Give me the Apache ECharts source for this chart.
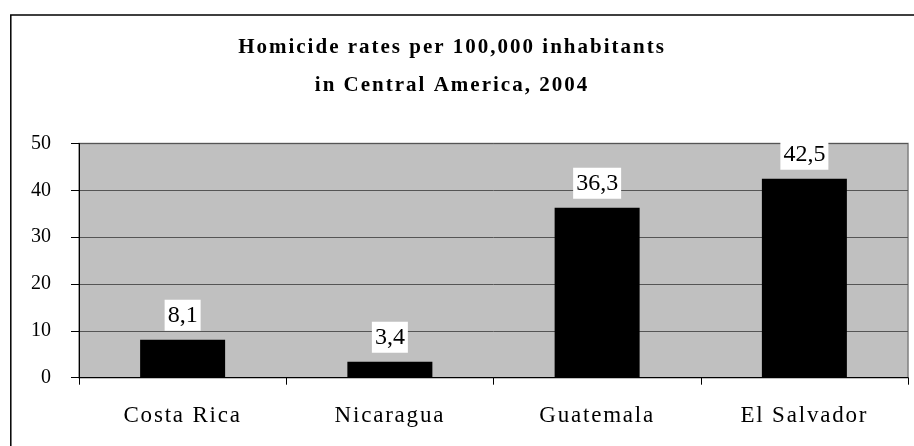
<!DOCTYPE html>
<html>
<head>
<meta charset="utf-8">
<script src="https://cdn.jsdelivr.net/npm/echarts@6/dist/echarts.min.js"></script>
<style>
html,body{margin:0;padding:0;background:#fff;}
#chart{width:914px;height:446px;}
</style>
</head>
<body>
<div id="chart"></div>
<script>
const categories = ['Costa Rica', 'Nicaragua', 'Guatemala', 'El Salvador'];
const rates = [8.1, 3.4, 36.3, 42.5];
const yTicks = [0, 10, 20, 30, 40, 50];
const titleText = 'Homicide rates per 100,000 inhabitants\nin Central America, 2004';

// letter spacing for title and category labels (drawing only)
(function () {
  const proto = CanvasRenderingContext2D.prototype;
  const orig = proto.fillText;
  proto.fillText = function (t, x, y, w) {
    const f = this.font || '';
    if ('letterSpacing' in this) {
      if (/\b21px\b/.test(f)) this.letterSpacing = '2px';
      else if (/\b23px\b/.test(f)) this.letterSpacing = '1.8px';
      else this.letterSpacing = '0px';
    }
    return w === undefined ? orig.call(this, t, x, y) : orig.call(this, t, x, y, w);
  };
})();

const FONT = 'Liberation Serif';
const chart = echarts.init(document.getElementById('chart'), null, {renderer: 'canvas'});
chart.setOption({
  animation: false,
  backgroundColor: '#fff',
  title: {
    text: titleText,
    left: 447,
    top: 24,
    textAlign: 'center',
    textStyle: {fontFamily: FONT, fontSize: 21, fontWeight: 'bold', color: '#000', lineHeight: 38}
  },
  graphic: [{
    type: 'polyline',
    shape: {points: [[10.8, 460], [10.8, 15], [930, 15]]},
    style: {stroke: '#000', lineWidth: 1.5, fill: null},
    silent: true
  }],
  grid: {
    left: 79, top: 143.5, right: 6, bottom: 68.3,
    show: true, backgroundColor: '#c0c0c0', borderColor: '#808080', borderWidth: 1.5,
    containLabel: false
  },
  xAxis: {
    type: 'category',
    data: categories,
    axisLine: {lineStyle: {color: '#000', width: 1}},
    axisTick: {show: true, length: 7, lineStyle: {color: '#000'}},
    axisLabel: {margin: 27, fontFamily: FONT, fontSize: 23, color: '#000'}
  },
  yAxis: {
    type: 'value',
    min: yTicks[0], max: yTicks[yTicks.length - 1], interval: 10,
    axisLine: {show: true, lineStyle: {color: '#000', width: 1}},
    axisTick: {show: true, length: 8, lineStyle: {color: '#000'}},
    axisLabel: {margin: 28, fontFamily: FONT, fontSize: 20, color: '#000'},
    splitLine: {show: true, lineStyle: {color: '#555', width: 1}}
  },
  series: [{
    type: 'bar',
    data: rates,
    barWidth: 85,
    itemStyle: {color: '#000'},
    label: {
      show: true,
      position: 'top',
      distance: 9,
      formatter: p => String(p.value).replace('.', ','),
      fontFamily: FONT, fontSize: 24, color: '#000',
      backgroundColor: '#fff',
      padding: [4, 3, 3, 3]
    }
  }]
});
</script>
</body>
</html>
